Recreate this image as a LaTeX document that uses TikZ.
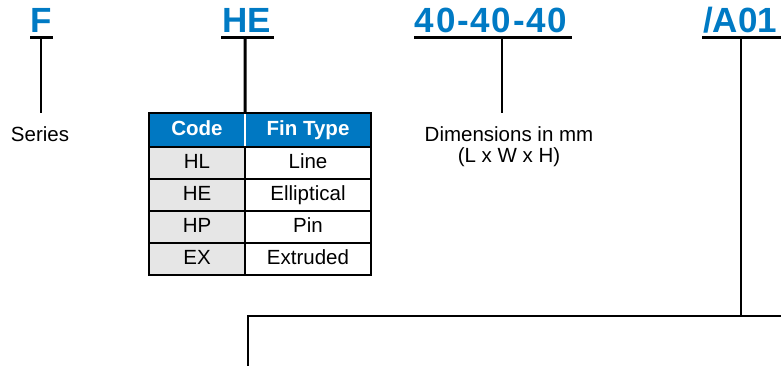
\documentclass[tikz,border=0pt]{standalone}
\usepackage{fontspec}
\setmainfont{Liberation Sans}
\definecolor{pnblue}{RGB}{0,122,196}
\definecolor{hdrblue}{RGB}{0,120,194}
\definecolor{cellgray}{RGB}{230,230,230}
\begin{document}
\begin{tikzpicture}[x=1pt,y=-1pt,
  partno/.style={font=\fontsize{35}{40}\selectfont\bfseries, text=pnblue, inner sep=0pt, anchor=base},
  uline/.style={line width=3pt},
  leader/.style={line width=2pt},
  thickleader/.style={line width=3pt},
  desc/.style={font=\fontsize{20.5}{24}\selectfont, inner sep=0pt, anchor=base, align=center},
  cellbase/.style={minimum height=32pt, inner sep=0pt, text height=15pt, text depth=4pt, font=\fontsize{20.5}{24}\selectfont},
  codecell/.style={cellbase, minimum width=96pt, fill=cellgray},
  typecell/.style={cellbase, minimum width=126pt, fill=white},
  hdrcell/.style={cellbase, minimum height=34pt, fill=hdrblue, text=white, font=\fontsize{20.5}{24}\selectfont\bfseries},
  grid/.style={line width=2pt}
]
\useasboundingbox (0,0) rectangle (781,366);

% part-number segments
\node[partno] (F) at (41,33) {F};
\node[partno] (HE) at (246.5,33) {HE};
\node[partno] (DIM) at (491,33) {\addfontfeature{LetterSpace=5}40-40-40};
\node[partno, anchor=base west] (OPT) at (703,33) {/A01};

% underlines
\coordinate (Fl) at (30,38);   \coordinate (Fr) at (53,38);
\coordinate (HEl) at (221,38); \coordinate (HEr) at (274,38);
\coordinate (Dl) at (414,38);  \coordinate (Dr) at (572,38);
\coordinate (Ol) at (702,38);  \coordinate (Or) at (781,38);
\draw[uline] (Fl) -- (Fr);
\draw[uline] (HEl) -- (HEr);
\draw[uline] (Dl) -- (Dr);
\draw[uline] (Ol) -- (Or);

% Series
\coordinate (Ftop) at (41,38);
\coordinate (Fbot) at (41,113);
\draw[leader] (Ftop) -- (Fbot);
\node[desc] (series) at (40,142) {Series};

% Dimensions
\coordinate (Dtop) at (502,38);
\coordinate (Dbot) at (502,113);
\draw[leader] (Dtop) -- (Dbot);
\node[desc] (dims) at (509,142) {Dimensions in mm};
\node[desc] (lwh) at (509,163) {(L x W x H)};

% Fin type table
\node[hdrcell, minimum width=96pt] (hc) at (197,130) {Code};
\node[hdrcell, minimum width=126pt] (ht) at (308,130) {Fin Type};
\node[codecell] (c1) at (197,163) {HL};
\node[typecell] (t1) at (308,163) {Line};
\node[codecell] (c2) at (197,195) {HE};
\node[typecell] (t2) at (308,195) {Elliptical};
\node[codecell] (c3) at (197,227) {HP};
\node[typecell] (t3) at (308,227) {Pin};
\node[codecell] (c4) at (197,259) {EX};
\node[typecell] (t4) at (308,259) {Extruded};
% grid lines
\draw[white, line width=2pt] (hc.north east) -- (hc.south east);
\draw[grid] (c1.north east) -- (c4.south east);
\draw[grid] (c1.north west) -- (t1.north east);
\draw[grid] (c2.north west) -- (t2.north east);
\draw[grid] (c3.north west) -- (t3.north east);
\draw[grid] (c4.north west) -- (t4.north east);
\draw[grid] (hc.north west) rectangle (t4.south east);

% HE leader into table
\coordinate (HEtop) at (245,38);
\draw[thickleader] (HEtop) -- (hc.north east);

% /A01 leader and branch
\coordinate (Otop) at (741,38);
\coordinate (Ojoin) at (741,316);
\coordinate (Bl) at (248,316);
\coordinate (Br) at (781,316);
\coordinate (Bdown) at (248,366);
\draw[leader] (Otop) -- (Ojoin);
\draw[line width=2.5pt] (Bdown) -- (Bl) -- (Br);
\end{tikzpicture}
\end{document}
